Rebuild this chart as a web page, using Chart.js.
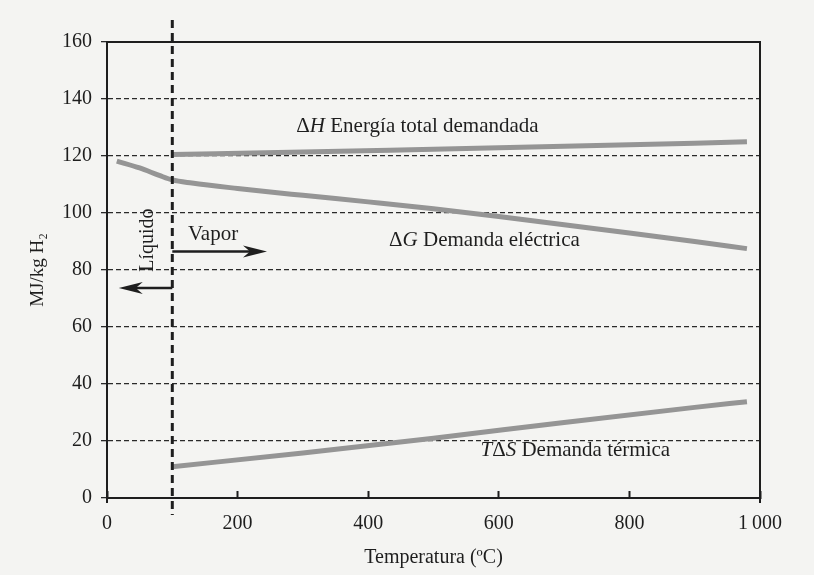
<!DOCTYPE html>
<html>
<head>
<meta charset="utf-8">
<script src="https://cdn.jsdelivr.net/npm/chart.js@4.4.1/dist/chart.umd.min.js"></script>
<style>
  body { margin: 0; background: #f4f4f2; }
  #caja { width: 814px; height: 575px; }
</style>
</head>
<body>
<div id="caja"><canvas id="grafico"></canvas></div>
<script>
// datos (MJ/kg H2 frente a temperatura en ºC)
const tempH = [100, 300, 500, 700, 900, 980];
const entalpia = [120.5, 121.4, 122.4, 123.4, 124.5, 125];

const tempG = [15, 50, 80, 100, 130, 200, 300, 400, 500, 600, 700, 800, 900, 980];
const gibbs = [118.2, 115.8, 113.2, 111.6, 110.5, 108.6, 106.2, 103.9, 101.5, 98.8, 95.9, 93, 90, 87.5];

const tempS = [100, 300, 500, 700, 900, 980];
const termica = [11, 15.8, 21, 26.5, 31.8, 33.8];

const ticksX = [0, 200, 400, 600, 800, 1000];
const ticksY = [0, 20, 40, 60, 80, 100, 120, 140, 160];

const tCambio = 100; // cambio liquido / vapor

const fuente = '"Liberation Serif", "Times New Roman", serif';
const gris = '#959595';
const tinta = '#1e1e1e';

function puntos(xs, ys) {
    return xs.map((x, i) => ({ x: x, y: ys[i] }));
}

// texto con partes en cursiva
function textoMixto(ctx, partes, x, y) {
    let cx = x;
    partes.forEach(p => {
        ctx.font = (p[1] ? 'italic ' : '') + '21px ' + fuente;
        ctx.fillText(p[0], cx, y);
        cx += ctx.measureText(p[0]).width;
    });
}

function flecha(ctx, x1, y, x2) {
    const dir = Math.sign(x2 - x1);
    ctx.beginPath();
    ctx.moveTo(x1, y);
    ctx.lineTo(x2 - dir * 14, y);
    ctx.lineWidth = 2.5;
    ctx.stroke();
    ctx.beginPath();
    ctx.moveTo(x2, y);
    ctx.lineTo(x2 - dir * 24, y - 6);
    ctx.lineTo(x2 - dir * 17, y);
    ctx.lineTo(x2 - dir * 24, y + 6);
    ctx.closePath();
    ctx.fill();
}

const anotaciones = {
    id: 'anotaciones',
    afterDraw(chart) {
        const ctx = chart.ctx;
        const sx = chart.scales.x;
        const sy = chart.scales.y;
        const area = chart.chartArea;
        ctx.save();
        ctx.strokeStyle = tinta;
        ctx.fillStyle = tinta;

        // linea discontinua en 100 ºC
        const xc = sx.getPixelForValue(tCambio);
        ctx.setLineDash([8, 5]);
        ctx.lineWidth = 3;
        ctx.beginPath();
        ctx.moveTo(xc, area.top - 22);
        ctx.lineTo(xc, area.bottom + 17);
        ctx.stroke();
        ctx.setLineDash([]);

        ctx.textBaseline = 'middle';
        ctx.textAlign = 'left';
        textoMixto(ctx, [['\u0394', false], ['H', true], [' Energía total demandada', false]],
            sx.getPixelForValue(290), sy.getPixelForValue(130.5));
        textoMixto(ctx, [['\u0394', false], ['G', true], [' Demanda eléctrica', false]],
            sx.getPixelForValue(432), sy.getPixelForValue(90.5));
        textoMixto(ctx, [['T', true], ['\u0394', false], ['S', true], [' Demanda térmica', false]],
            sx.getPixelForValue(572), sy.getPixelForValue(16.8));

        ctx.font = '21px ' + fuente;
        ctx.fillText('Vapor', sx.getPixelForValue(124), sy.getPixelForValue(92.5));
        flecha(ctx, xc, sy.getPixelForValue(86.5), sx.getPixelForValue(245));
        flecha(ctx, xc, sy.getPixelForValue(73.7), sx.getPixelForValue(18));

        ctx.save();
        ctx.translate(sx.getPixelForValue(62), sy.getPixelForValue(90.5));
        ctx.rotate(-Math.PI / 2);
        ctx.textAlign = 'center';
        ctx.font = '20px ' + fuente;
        ctx.fillText('Líquido', 0, 0);
        ctx.restore();

        // ejes que bajan un poco bajo el eje x
        ctx.lineWidth = 2;
        ctx.beginPath();
        ctx.moveTo(area.left, area.bottom);
        ctx.lineTo(area.left, area.bottom + 5);
        ctx.moveTo(area.right, area.bottom);
        ctx.lineTo(area.right, area.bottom + 5);
        ctx.stroke();
        ctx.restore();
    }
};

const serie = (datos, etiqueta) => ({
    label: etiqueta,
    data: datos,
    borderColor: gris,
    borderWidth: 5,
    pointRadius: 0,
    cubicInterpolationMode: 'monotone',
    fill: false
});

new Chart(document.getElementById('grafico'), {
    type: 'line',
    data: {
        datasets: [
            serie(puntos(tempH, entalpia), '\u0394H'),
            serie(puntos(tempG, gibbs), '\u0394G'),
            serie(puntos(tempS, termica), 'T\u0394S')
        ]
    },
    options: {
        responsive: true,
        maintainAspectRatio: false,
        animation: false,
        layout: { padding: { top: 42, right: 54, bottom: 0, left: 0 } },
        plugins: {
            legend: { display: false },
            tooltip: { enabled: false }
        },
        scales: {
            x: {
                type: 'linear',
                min: 0,
                max: 1000,
                afterBuildTicks: s => { s.ticks = ticksX.map(v => ({ value: v })); },
                afterFit: s => { s.height = 77; },
                ticks: {
                    color: tinta,
                    padding: 21,
                    font: { family: fuente, size: 20 },
                    callback: v => v === 1000 ? '1\u2009000' : v
                },
                grid: {
                    drawOnChartArea: false,
                    drawTicks: true,
                    tickLength: -7,
                    tickWidth: 2,
                    tickColor: tinta
                },
                border: { color: tinta, width: 2 },
                title: {
                    display: true,
                    text: 'Temperatura (ºC)',
                    color: tinta,
                    font: { family: fuente, size: 20 },
                    padding: { top: 0, bottom: 5 }
                }
            },
            x2: {
                type: 'linear',
                position: 'top',
                min: 0,
                max: 1000,
                afterFit: s => { s.height = 0; },
                ticks: { display: false },
                grid: { display: false },
                border: { color: tinta, width: 2 }
            },
            y: {
                min: 0,
                max: 160,
                afterBuildTicks: s => { s.ticks = ticksY.map(v => ({ value: v })); },
                afterFit: s => { s.width = 107; },
                ticks: {
                    color: tinta,
                    padding: 9,
                    font: { family: fuente, size: 20 }
                },
                grid: {
                    color: '#2a2a2a',
                    lineWidth: 1.3,
                    tickLength: 6,
                    tickColor: '#2a2a2a',
                    tickBorderDash: [5, 3]
                },
                border: { color: tinta, width: 2, dash: [5, 3] },
                title: {
                    display: true,
                    text: 'MJ/kg H\u2082',
                    color: tinta,
                    font: { family: fuente, size: 19 },
                    padding: { top: 27, bottom: 0 }
                }
            },
            y2: {
                position: 'right',
                min: 0,
                max: 160,
                afterFit: s => { s.width = 0; },
                ticks: { display: false },
                grid: { display: false },
                border: { color: tinta, width: 2 }
            }
        }
    },
    plugins: [anotaciones]
});
</script>
</body>
</html>
